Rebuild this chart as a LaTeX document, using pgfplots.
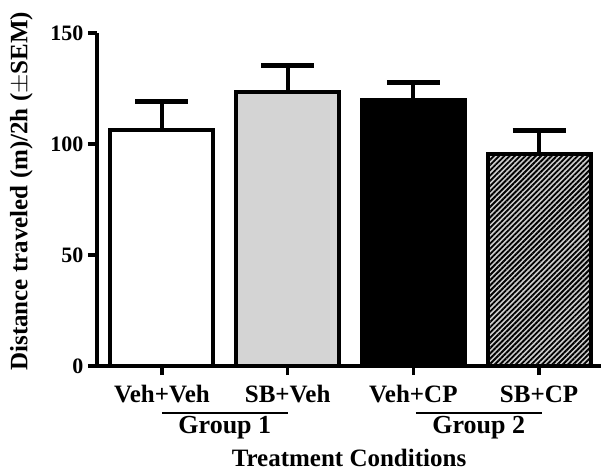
\documentclass[border=0pt]{standalone}
\usepackage{fontspec}
\setmainfont{Liberation Serif}
\usepackage{pgfplots}
\pgfplotsset{compat=1.18}
\usetikzlibrary{patterns.meta}
\begin{document}
\begin{tikzpicture}[font=\bfseries]
\useasboundingbox (-97pt,-106pt) rectangle (505pt,366pt);
\begin{axis}[
  scale only axis, width=504pt, height=333pt,
  xmin=-0.517, xmax=3.493, ymin=0, ymax=150,
  axis x line=bottom, axis y line=left,
  axis line style={-, line width=4pt},
  clip=false,
  tick align=outside,
  major tick length=9pt,
  every tick/.style={line width=3.5pt, black},
  xtick={0,1,2,3},
  xticklabels={Veh+Veh,SB+Veh,Veh+CP,SB+CP},
  ytick={0,50,100,150},
  /pgf/number format/assume math mode=true,
  xticklabel style={font=\fontsize{25}{26}\selectfont\bfseries, anchor=north, yshift=-7pt},
  yticklabel style={font=\fontsize{22}{24}\selectfont\bfseries, anchor=east, xshift=-1pt},
  xlabel={Treatment Conditions},
  ylabel={Distance traveled (m)/2h (\(\pm\)SEM)},
  xlabel style={font=\fontsize{25}{26}\selectfont\bfseries, at={(axis description cs:0.5,-0.276)}, anchor=center},
  ylabel style={font=\fontsize{25}{26}\selectfont\bfseries, at={(axis description cs:-0.150,0.525)}, anchor=center},
  every axis plot/.append style={ybar, bar width=103pt, bar shift=0pt, draw=black, line width=4pt,
    error bars/y dir=plus, error bars/y explicit,
    error bars/error bar style={line width=4pt, black},
    error bars/error mark options={rotate=90, line width=5pt, mark size=26.5pt, black}},
]
\addplot[fill=white] coordinates {(0,106.3) +- (0,12.8)};
\addplot[fill=black!17] coordinates {(1,123.6) +- (0,11.6)};
\addplot[fill=black] coordinates {(2,119.8) +- (0,8.1)};
\addplot[fill=black!20, postaction={pattern={Lines[angle=45,distance=3.7pt,line width=1.85pt]}}] coordinates {(3,95.3) +- (0,10.7)};
\draw[line width=2.5pt] (axis cs:0,-21.2) -- (axis cs:1,-21.2);
\draw[line width=2.5pt] (axis cs:2.02,-21.2) -- (axis cs:3.02,-21.2);
\node[font=\fontsize{26}{27}\selectfont\bfseries] at (axis cs:0.5,-27.8) {Group 1};
\node[font=\fontsize{26}{27}\selectfont\bfseries] at (axis cs:2.52,-27.8) {Group 2};
\end{axis}
\end{tikzpicture}
\end{document}
